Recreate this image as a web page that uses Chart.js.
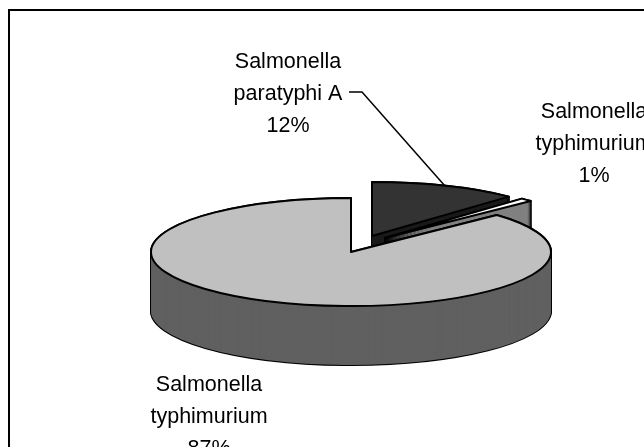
<!DOCTYPE html>
<html>
<head>
<meta charset="utf-8">
<script src="https://cdn.jsdelivr.net/npm/chart.js@4"></script>
<style>
  html, body { margin: 0; padding: 0; background: #fff; overflow: hidden; }
  #wrap { position: relative; width: 644px; height: 447px; }
  #frame { position: absolute; left: 8px; top: 9px; width: 700px; height: 500px;
           border-left: 2px solid #000; border-top: 2px solid #000; }
  canvas { position: absolute; left: 0; top: 0; }
</style>
</head>
<body>
<div id="wrap">
  <div id="frame"></div>
  <canvas id="pie" width="644" height="447"></canvas>
</div>
<script>
const categories = ['Salmonella paratyphi A', 'Salmonella typhimurium', 'Salmonella typhimurium'];
const shares = [12, 1, 87];
const topColors = ['#333333', '#ffffff', '#c0c0c0'];
const wallColors = ['#1a1a1a', '#808080', '#606060'];

// where the flattened pie goes on the page
const PIE_X = 351, PIE_Y = 252, RADIUS_X = 200, RADIUS_Y = 54, DEPTH = 59;
const explode = [[21, -16], [34, -14], [0, 0]]; // pull-out of each slice, page px
const labelSpots = [[288, 68], [594, 118], [209, 391]];
const LINE_GAP = 32;

function sliceShift(arc, i) {
  return [explode[i][0] * arc.outerRadius / RADIUS_X, explode[i][1] * arc.outerRadius / RADIUS_Y];
}

function slicePath(ctx, arc, i, dy) {
  const [sx, sy] = sliceShift(arc, i);
  const cx = arc.x + sx;
  const cy = arc.y + sy + dy;
  ctx.beginPath();
  ctx.moveTo(cx, cy);
  ctx.arc(cx, cy, arc.outerRadius, arc.startAngle, arc.endAngle);
  ctx.closePath();
}

const pie3d = {
  id: 'pie3d',
  beforeDatasetDraw(chart) {
    const ctx = chart.ctx;
    const arcs = chart.getDatasetMeta(0).data;
    const first = arcs[0];
    const sy = RADIUS_Y / first.outerRadius;
    ctx.save();
    ctx.translate(PIE_X, PIE_Y);
    ctx.scale(RADIUS_X / first.outerRadius, sy);
    ctx.translate(-first.x, -first.y);
    const squashed = ctx.getTransform();
    ctx.lineJoin = 'round';
    ctx.strokeStyle = '#000';
    ctx.lineWidth = 2;

    // side walls, swept downward, silhouette first then the fill
    arcs.forEach((arc, i) => {
      for (let d = DEPTH; d >= 0; d--) {
        ctx.setTransform(squashed);
        slicePath(ctx, arc, i, d / sy);
        ctx.resetTransform();
        ctx.stroke();
      }
      ctx.fillStyle = wallColors[i];
      ctx.setTransform(squashed);
      for (let d = DEPTH; d >= 0; d--) {
        slicePath(ctx, arc, i, d / sy);
        ctx.fill();
      }
    });

    // top faces in the same order, outline added in page pixels
    arcs.forEach((arc, i) => {
      const [dx, dy] = sliceShift(arc, i);
      ctx.setTransform(squashed);
      ctx.save();
      ctx.translate(dx, dy);
      arc.draw(ctx);
      ctx.restore();
      slicePath(ctx, arc, i, 0);
      ctx.resetTransform();
      ctx.stroke();
    });
    ctx.restore();
    return false; // slices are already painted
  },
  afterDatasetsDraw(chart) {
    const ctx = chart.ctx;
    ctx.save();

    // leader line for the dark slice
    ctx.strokeStyle = '#000';
    ctx.lineWidth = 1.5;
    ctx.beginPath();
    ctx.moveTo(349, 92);
    ctx.lineTo(362, 92);
    ctx.lineTo(445, 186);
    ctx.stroke();

    // labels
    ctx.fillStyle = '#000';
    ctx.font = '21.5px "Liberation Sans", Arial, sans-serif';
    ctx.textAlign = 'center';
    ctx.textBaseline = 'alphabetic';
    categories.forEach((name, i) => {
      const cut = name.indexOf(' ');
      const lines = [name.slice(0, cut), name.slice(cut + 1), shares[i] + '%'];
      const [x, y] = labelSpots[i];
      lines.forEach((t, n) => ctx.fillText(t, x, y + n * LINE_GAP));
    });
    ctx.restore();
  }
};

new Chart(document.getElementById('pie').getContext('2d'), {
  type: 'pie',
  data: {
    labels: categories,
    datasets: [{
      data: shares,
      backgroundColor: topColors,
      borderWidth: 0,
    }],
  },
  options: {
    responsive: false,
    animation: false,
    events: [],
    plugins: { legend: { display: false }, tooltip: { enabled: false } },
  },
  plugins: [pie3d],
});
</script>
</body>
</html>
